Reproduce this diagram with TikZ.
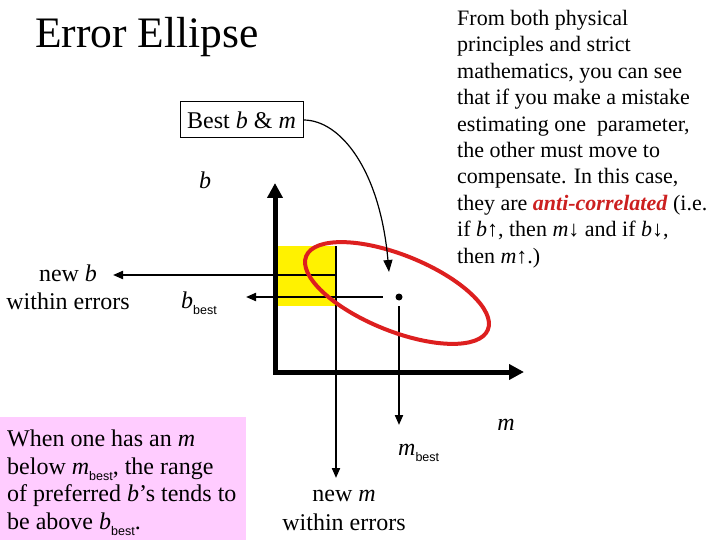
\documentclass[tikz,border=0pt]{standalone}
\usepackage{fontspec}
\setmainfont{Liberation Serif}
\newfontfamily\subsans{Liberation Sans}
\usetikzlibrary{arrows.meta}
\definecolor{ellred}{HTML}{DD1F1F}
\definecolor{notepink}{HTML}{FFCCFF}
\definecolor{keyred}{HTML}{CC2020}
\newcommand{\lowsub}[1]{\raisebox{-6.5pt}{\fontsize{12.5}{14}\subsans #1}}

\begin{document}
\begin{tikzpicture}[x=1pt,y=-1pt,
   lbl/.style={inner sep=0pt,font=\fontsize{24}{28.5}\selectfont},
   guide/.style={line width=2pt,-{Triangle[length=10pt,width=8pt]}},
   pointer/.style={line width=1.2pt,-{Triangle[length=12pt,width=9pt]}},
   axis/.style={line width=5pt,line join=miter,{Triangle[length=15pt,width=15pt]}-{Triangle[length=15pt,width=15pt]}},
   dot/.style={circle,fill,inner sep=0pt,minimum size=7pt}]
  \useasboundingbox (0,0) rectangle (720,540);

  \node[anchor=base west,inner sep=0pt,font=\fontsize{43.5}{50}\selectfont] (title) at (35,48) {Error Ellipse};
  \node[anchor=north west,inner sep=0pt,align=left,font=\fontsize{22}{26.4}\selectfont] (story) at (457,10) {
     From both physical\\
     principles and strict\\
     mathematics, you can see\\
     that if you make a mistake\\
     estimating one~ parameter,\\
     the other must move to\\
     compensate. In this case,\\
     they are \textcolor{keyred}{\textbf{\textit{anti-correlated}}} (i.e.\\
     if \textit{b}↑, then \textit{m}↓ and if \textit{b}↓,\\
     then \textit{m}↑.)};

  \fill[notepink] (0,417) rectangle (246,545);
  \node[lbl,anchor=north west,align=left,font=\fontsize{24}{27.6}\selectfont] (note) at (7,429.6) {
     When one has an \textit{m}\\
     below \textit{m}\lowsub{best}, the range\\
     of preferred \textit{b}’s tends to\\
     be above \textit{b}\lowsub{best}.};

  \coordinate (O) at (275,372);
  \coordinate (btip) at (275,183);
  \coordinate (mtip) at (524,372);
  \coordinate (mlo) at (336,246);
  \coordinate (mnew) at (336,478);
  \coordinate (bhi) at (336,275);
  \coordinate (bnew) at (113,275);
  \coordinate (bbest) at (246,297);
  \coordinate (mbest) at (399,425);
  \coordinate (aim) at (389,272);

  \fill[yellow] (275,246) rectangle (336,306);
  \node[dot] (best) at (399,297) {};
  \draw[guide] (mlo) -- (mnew);
  \draw[guide] (bhi) -- (bnew);
  \draw[guide,shorten <=12.5pt] (best) -- (bbest);
  \draw[guide,shorten <=5.5pt] (best) -- (mbest);
  \draw[axis] (btip) -- (O) -- (mtip);
  \draw[ellred,line width=4pt,rotate around={-22:(397,293)}] (397,293) ellipse [x radius=98pt,y radius=38pt];

  \node[lbl,draw,line width=1pt,minimum width=123pt,minimum height=36pt] (bestbox) at (241.5,120) {Best \textit{b} \& \textit{m}};
  \draw[pointer] (bestbox.east) .. controls +(37,0) and +(-9,-102) .. (aim);

  \node[lbl,anchor=base] (blab) at (205,189) {\textit{b}};
  \node[lbl,anchor=base] (mlab) at (506,430) {\textit{m}};
  \node[lbl,anchor=base west] (bbestlab) at (181,308) {\textit{b}\lowsub{best}};
  \node[lbl,anchor=base west] (mbestlab) at (398,455) {\textit{m}\lowsub{best}};
  \node[lbl,align=center,anchor=north] (newb) at (68,264.6) {new \textit{b}\\within errors};
  \node[lbl,align=center,anchor=north] (newm) at (344,490) {new \textit{m}\\within errors};
\end{tikzpicture}
\end{document}
